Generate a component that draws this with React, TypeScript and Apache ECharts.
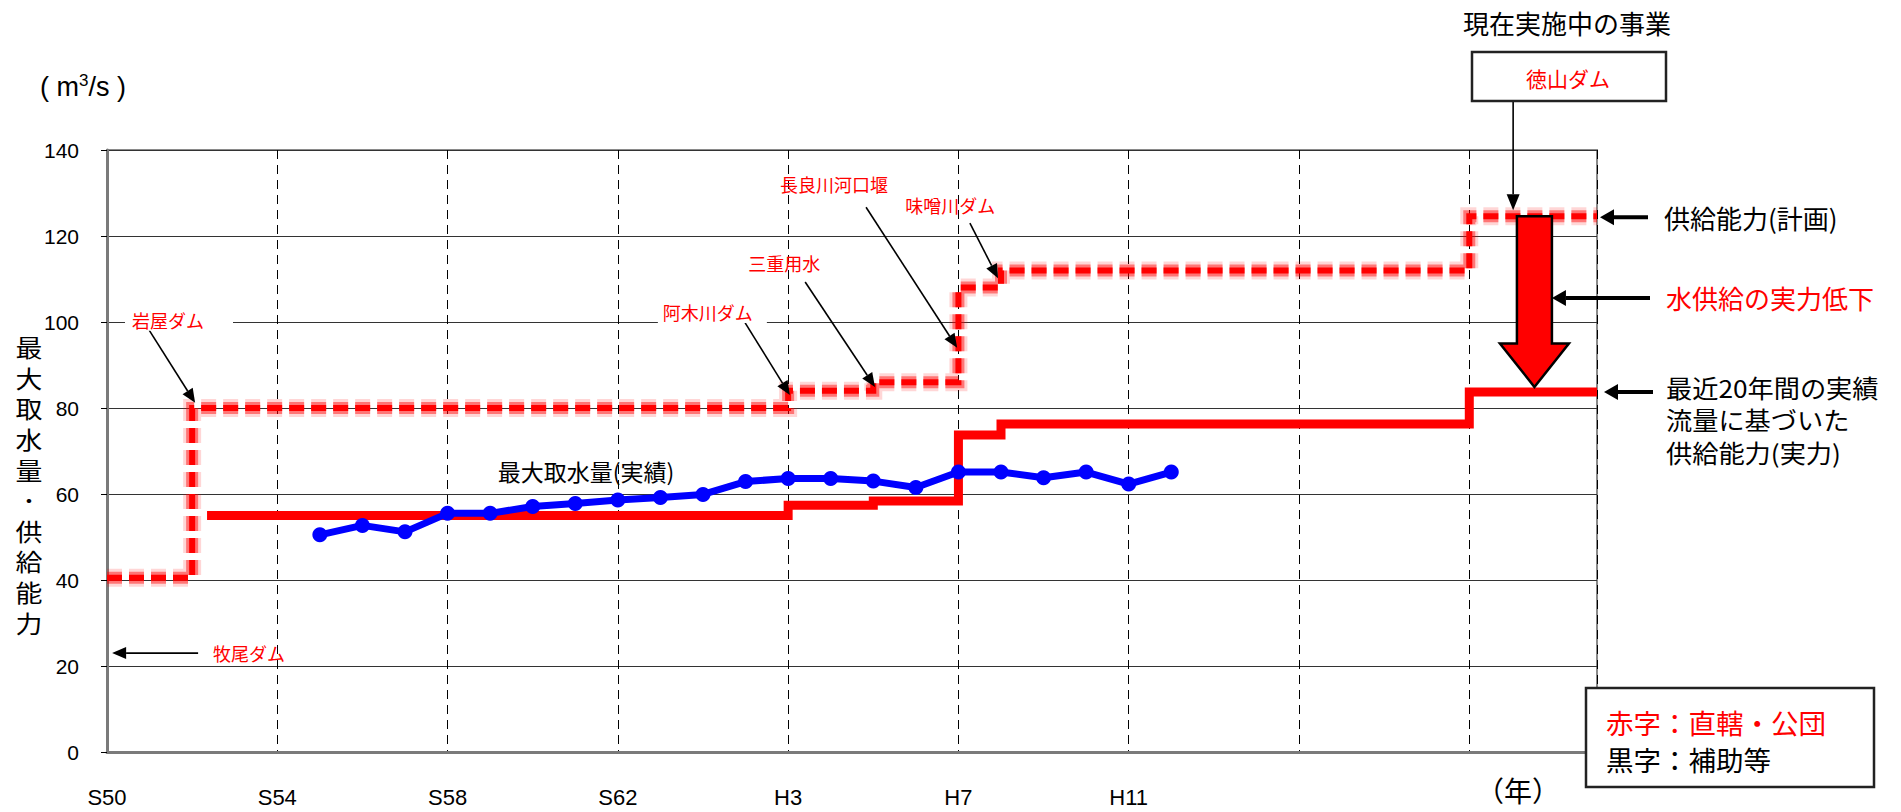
import React, { useEffect, useRef } from 'react';
import * as echarts from 'echarts';

// x values are years counted from S50 (1975)
const xTickLabels = ['S50', 'S54', 'S58', 'S62', 'H3', 'H7', 'H11', '', ''];
const yTickStep = 20;

// 供給能力(計画) – planned supply capacity (step changes)
const planYears = [0, 2, 16, 18, 20, 21, 32, 35];
const planValues = [40.5, 80, 84, 86, 108, 112, 124.6, 124.6];

// 最近20年間の実績流量に基づいた供給能力(実力)
const realCapYears = [2.35, 16, 18, 20, 21, 32, 35];
const realCapValues = [55, 57.4, 58.4, 73.7, 76.3, 83.7, 83.7];

// 最大取水量(実績)
const intakeYears = [5, 6, 7, 8, 9, 10, 11, 12, 13, 14, 15, 16, 17, 18, 19, 20, 21, 22, 23, 24, 25];
const intakeValues = [50.5, 52.7, 51.2, 55.5, 55.5, 57.1, 57.8, 58.6, 59.2, 59.9, 62.9, 63.6, 63.6, 63.0, 61.5, 65.1, 65.1, 63.8, 65.1, 62.3, 65.1];

const damLabels = ['岩屋ダム', '牧尾ダム', '阿木川ダム', '三重用水', '長良川河口堰', '味噌川ダム'];
const realCapNote = ['最近20年間の実績', '流量に基づいた', '供給能力(実力)'];

const JP = '"Noto Sans CJK JP", "Noto Sans", sans-serif';
const LAT = '"Liberation Sans", Arial, sans-serif';

function arrow(x1: number, y1: number, x2: number, y2: number, lw = 1.6, hl = 14, hw = 12, color = '#000') {
  const dx = x2 - x1, dy = y2 - y1;
  const L = Math.hypot(dx, dy);
  const ux = dx / L, uy = dy / L;
  const bx = x2 - ux * hl, by = y2 - uy * hl;
  const px = -uy, py = ux;
  return [
    { type: 'line', z: 100, shape: { x1, y1, x2: bx, y2: by }, style: { stroke: color, lineWidth: lw } },
    {
      type: 'polygon', z: 100,
      shape: { points: [[x2, y2], [bx + px * hw / 2, by + py * hw / 2], [bx - px * hw / 2, by - py * hw / 2]] },
      style: { fill: color },
    },
  ];
}

export default function App() {
  const ref = useRef<HTMLDivElement>(null);
  useEffect(() => {
    if (!ref.current) return;
    const chart = echarts.init(ref.current, null, { renderer: 'svg' });
    const planData = planYears.map((x, i) => [x, planValues[i]]);
    const realData = realCapYears.map((x, i) => [x, realCapValues[i]]);
    const intakeData = intakeYears.map((x, i) => [x, intakeValues[i]]);
    const dash = [15, 7];
    const planLayer = (color: string, width: number, z: number) => ({
      type: 'line', data: planData, step: 'end', symbol: 'none', silent: true, z,
      lineStyle: { color, width, type: dash, cap: 'butt', join: 'miter' },
    });
    chart.setOption({
      animation: false,
      grid: { left: 107, right: 304, top: 150, bottom: 60, show: true, borderColor: '#8a8a8a', borderWidth: 2, containLabel: false },
      xAxis: {
        type: 'value', min: 0, max: 35, interval: 4,
        axisLine: { show: true, onZero: false, lineStyle: { color: '#7a7a7a', width: 3 } },
        axisTick: { show: false },
        axisLabel: {
          margin: 34, color: '#000', fontSize: 22,
          fontFamily: '"Liberation Sans Narrow", "Arial Narrow", "Liberation Sans", sans-serif',
          formatter: (v: number) => xTickLabels[v / 4] ?? '',
        },
        splitLine: { show: true, lineStyle: { color: '#000', width: 1, type: [9, 6] } },
      },
      yAxis: {
        type: 'value', min: 0, max: 140, interval: yTickStep,
        axisLine: { show: true, lineStyle: { color: '#7a7a7a', width: 3 } },
        axisTick: { show: true, length: 6, lineStyle: { color: '#000', width: 1 } },
        axisLabel: { margin: 28, color: '#000', fontSize: 21, fontFamily: LAT },
        splitLine: { show: true, lineStyle: { color: '#333', width: 1 } },
      },
      series: [
        planLayer('rgba(255,0,0,0.16)', 18, 2),
        planLayer('rgba(255,0,0,0.45)', 12, 3),
        planLayer('#ff0000', 6, 4),
        {
          type: 'line', data: realData, step: 'end', symbol: 'none', silent: true, z: 5,
          lineStyle: { color: '#ff0000', width: 9, cap: 'butt', join: 'miter' },
        },
        {
          type: 'line', data: intakeData, symbol: 'circle', symbolSize: 15, showAllSymbol: true, silent: true, z: 6,
          lineStyle: { color: '#0000ff', width: 7 }, itemStyle: { color: '#0000ff' },
        },
      ],
    });

    const P = (x: number, y: number) => chart.convertToPixel({ gridIndex: 0 }, [x, y]) as number[];
    const g: any[] = [];
    const txt = (x: number, y: number, text: string, size: number, fill: string, extra: any = {}) => ({
      type: 'text', x, y, z: 110,
      style: { text, fill, fontSize: size, fontFamily: JP, align: 'center', verticalAlign: 'middle', ...extra },
    });

    // dam annotations (in data coordinates); p = left edge of label box
    const ann = [
      { t: damLabels[0], p: [0.423, 100.5], a: [[0.99, 98.1], [2.07, 81.2]], bg: [2, 29, 2, 7] },
      { t: damLabels[1], p: [2.49, 23], a: [[2.14, 23], [0.12, 23]] },
      { t: damLabels[2], p: [12.94, 102.3], a: [[14.99, 99.8], [16.04, 83.0]], bg: [2, 14, 2, 5] },
      { t: damLabels[3], p: [15.06, 113.7], a: [[16.4, 109.3], [18.04, 84.9]] },
      { t: damLabels[4], p: [15.81, 132.1], a: [[17.83, 126.7], [19.97, 94.0]] },
      { t: damLabels[5], p: [18.75, 127.2], a: [[20.27, 123], [20.93, 110.2]] },
    ];
    ann.forEach((a) => {
      const [x, y] = P(a.p[0], a.p[1]);
      const extra: any = a.bg ? { backgroundColor: '#fff', padding: a.bg } : {};
      g.push(txt(x, y, a.t, 18, '#ff0000', { align: 'left', ...extra }));
      const [x1, y1] = P(a.a[0][0], a.a[0][1]);
      const [x2, y2] = P(a.a[1][0], a.a[1][1]);
      g.push(...arrow(x1, y1, x2, y2, 1.6, 14, 12));
    });

    // series label
    const [lx, ly] = P(11.25, 65.3);
    g.push(txt(lx, ly, '最大取水量(実績)', 23, '#000'));

    // top right: 徳山ダム
    g.push(txt(1567, 22, '現在実施中の事業', 26, '#000'));
    g.push({ type: 'rect', z: 105, shape: { x: 1472, y: 52, width: 194, height: 49 }, style: { fill: '#fff', stroke: '#222', lineWidth: 2.5 } });
    g.push(txt(1568, 78, '徳山ダム', 21, '#ff0000'));
    const [tx] = P(33.03, 0);
    const [, tyEnd] = P(0, 126);
    g.push(...arrow(tx, 101, tx, tyEnd, 1.6, 16, 13));

    // big red arrow
    const [cx, yTop] = P(33.53, 124.6);
    const [, yShaft] = P(0, 95);
    const [, yTip] = P(0, 84.9);
    g.push({
      type: 'polygon', z: 108,
      shape: {
        points: [[cx - 17.5, yTop], [cx + 17.5, yTop], [cx + 17.5, yShaft], [cx + 34.5, yShaft], [cx, yTip], [cx - 34.5, yShaft], [cx - 17.5, yShaft]],
      },
      style: { fill: '#ff0000', stroke: '#000', lineWidth: 2.5, lineJoin: 'miter' },
    });

    // right-hand arrows and texts
    const [, yPlan] = P(0, 124.6);
    const [, yDrop] = P(0, 105.6);
    const [, yReal] = P(0, 83.7);
    g.push(...arrow(1648, yPlan + 1, 1600, yPlan + 1, 4, 14, 16));
    g.push(...arrow(1650, yDrop, cx + 17.5, yDrop, 4, 14, 16));
    g.push(...arrow(1653, yReal, 1604, yReal, 4, 14, 16));
    g.push(txt(1664, yPlan + 1, '供給能力(計画)', 26, '#000', { align: 'left' }));
    g.push(txt(1666, yDrop, '水供給の実力低下', 26, '#ff0000', { align: 'left' }));
    realCapNote.forEach((line, i) => {
      g.push({
        type: 'text', x: 1666, y: 387 + i * 32.8, z: 110, scaleX: 1.07,
        style: { text: line, fill: '#000', fontSize: 24.5, fontFamily: JP, align: 'left', verticalAlign: 'middle' },
      });
    });

    // legend box bottom right
    g.push({ type: 'rect', z: 105, shape: { x: 1586, y: 688, width: 288, height: 99 }, style: { fill: '#fff', stroke: '#222', lineWidth: 2.5 } });
    g.push(txt(1606, 722, '赤字：直轄・公団', 27.5, '#ff0000', { align: 'left' }));
    g.push(txt(1606, 759, '黒字：補助等', 27.5, '#000', { align: 'left' }));

    // axis titles / units
    g.push(txt(1518, 790, '（年）', 28, '#000'));
    g.push({
      type: 'text', x: 40, y: 87, z: 110,
      style: {
        text: '{a|(}{b| m}{s|3}{b|/s }{a|)}', fill: '#000', align: 'left', verticalAlign: 'middle', fontFamily: LAT,
        rich: {
          a: { fontSize: 27, fontFamily: LAT, fill: '#000', lineHeight: 30 },
          b: { fontSize: 27, fontFamily: LAT, fill: '#000', lineHeight: 30 },
          s: { fontSize: 17, fontFamily: LAT, fill: '#000', lineHeight: 30, verticalAlign: 'top' },
        },
      },
    });
    g.push({
      type: 'text', x: 29, y: 331, z: 110, scaleX: 1.12,
      style: {
        text: ['最', '大', '取', '水', '量', '･', '供', '給', '能', '力'].join('\n'),
        fill: '#000', align: 'center', verticalAlign: 'top', fontFamily: JP, fontSize: 24, lineHeight: 30.6,
      },
    });

    chart.setOption({ graphic: { elements: g } });
    return () => chart.dispose();
  }, []);
  return <div ref={ref} style={{ position: 'fixed', left: 0, top: 0, width: 1901, height: 812, background: '#fff' }} />;
}
